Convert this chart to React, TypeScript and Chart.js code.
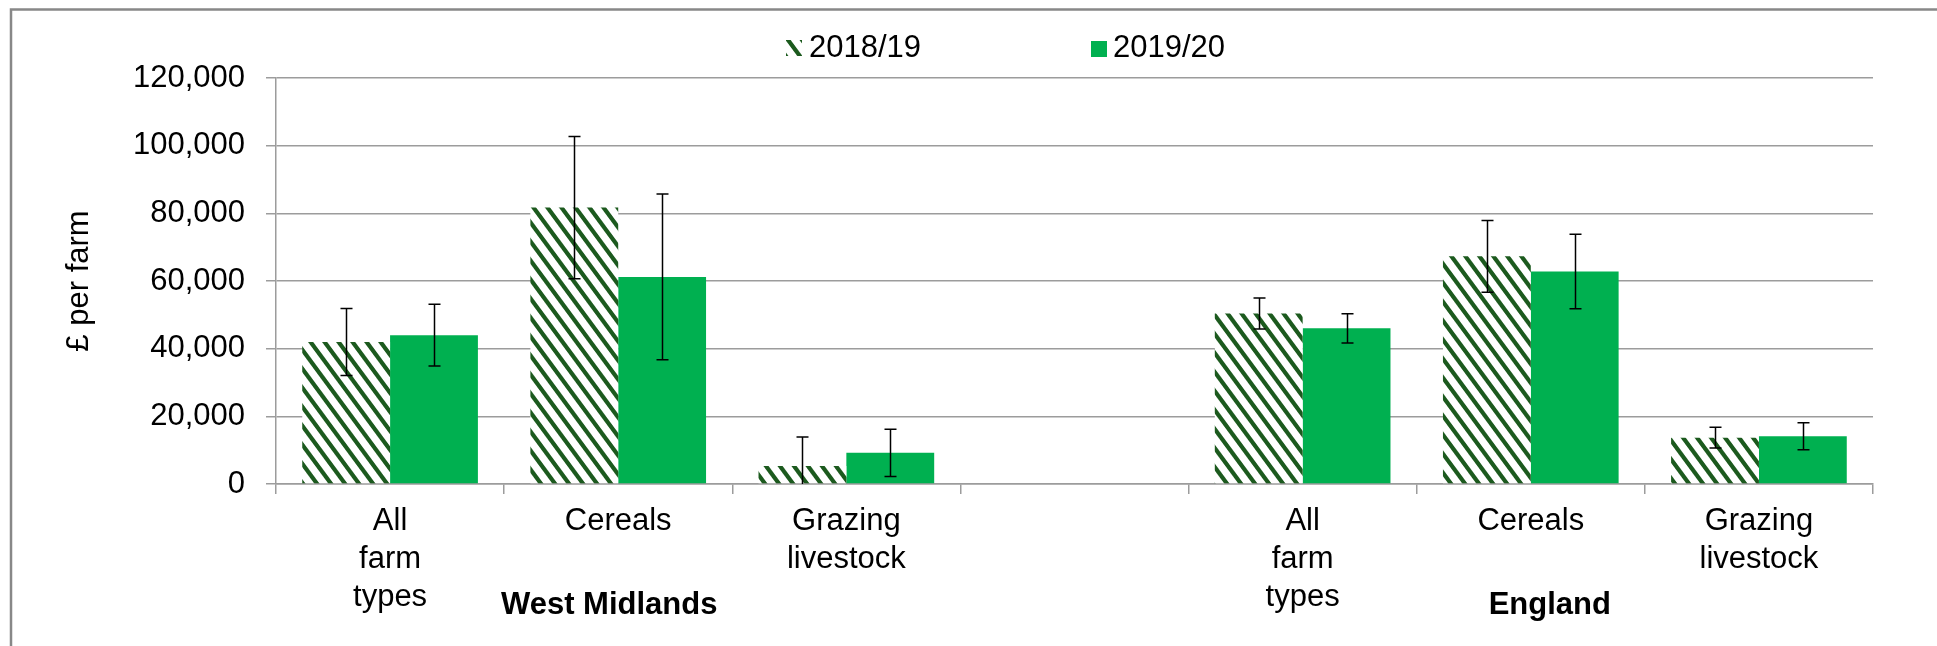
import React, { useEffect, useRef } from "react";
import { Chart, registerables } from "chart.js";

Chart.register(...registerables);

// ---- data ----
const categories: (string | string[])[] = [
  ["All", "farm", "types"],
  "Cereals",
  ["Grazing", "livestock"],
  "",
  ["All", "farm", "types"],
  "Cereals",
  ["Grazing", "livestock"],
];
const groupLabels = ["West Midlands", "England"];
const groupCenterIndex = [1, 5];
const seriesNames = ["2018/19", "2019/20"];
const values2018 = [42000, 81700, 5300, null, 50400, 67300, 13700];
const errors2018 = [9900, 21000, 8600, null, 4600, 10600, 3050];
const values2019 = [44000, 61200, 9200, null, 46000, 62800, 14100];
const errors2019 = [9100, 24500, 7000, null, 4350, 11000, 4000];
const yTicks = [0, 20000, 40000, 60000, 80000, 100000, 120000];

// ---- styles ----
const FONT = "'Liberation Sans', Arial, sans-serif";
const GREEN = "#00B050";
const DARK = [0x1c, 0x5a, 0x1e];
const GRID = "#9c9c9c";

function makeHatch(): CanvasPattern | string {
  const W = 14, H = 19, T = 5.2, S = 4;
  const c = document.createElement("canvas");
  c.width = W;
  c.height = H;
  const g = c.getContext("2d");
  if (!g) return "#1c5a1e";
  const img = g.createImageData(W, H);
  for (let y = 0; y < H; y++) {
    for (let x = 0; x < W; x++) {
      let cov = 0;
      for (let j = 0; j < S; j++) {
        for (let i = 0; i < S; i++) {
          const px = x + (i + 0.5) / S;
          const py = y + (j + 0.5) / S;
          const d = (((px - (py * W) / H) % W) + W) % W;
          if (d < T) cov++;
        }
      }
      const a = cov / (S * S);
      const k = (y * W + x) * 4;
      img.data[k] = Math.round(255 * (1 - a) + DARK[0] * a);
      img.data[k + 1] = Math.round(255 * (1 - a) + DARK[1] * a);
      img.data[k + 2] = Math.round(255 * (1 - a) + DARK[2] * a);
      img.data[k + 3] = 255;
    }
  }
  g.putImageData(img, 0, 0);
  const p = g.createPattern(c, "repeat");
  return p || "#1c5a1e";
}

export default function App() {
  const ref = useRef<HTMLCanvasElement | null>(null);

  useEffect(() => {
    const canvas = ref.current;
    if (!canvas) return;
    const hatch = makeHatch();
    const vals = [values2018, values2019];
    const errs = [errors2018, errors2019];

    const framePlugin = {
      id: "frame",
      beforeDraw(chart: any) {
        const ctx = chart.ctx;
        ctx.save();
        ctx.strokeStyle = "#888888";
        ctx.lineWidth = 2.5;
        ctx.strokeRect(11, 9.5, 3000, 3000);
        ctx.restore();
      },
    };

    const errorBarPlugin = {
      id: "errorBars",
      afterDatasetsDraw(chart: any) {
        const ctx = chart.ctx;
        const yScale = chart.scales.y;
        const area = chart.chartArea;
        ctx.save();
        ctx.strokeStyle = "#000";
        ctx.lineWidth = 1.5;
        chart.data.datasets.forEach((_ds: any, di: number) => {
          const meta = chart.getDatasetMeta(di);
          meta.data.forEach((bar: any, i: number) => {
            const v = vals[di][i];
            const e = errs[di][i];
            if (v == null || e == null) return;
            const x = Math.round(bar.x) + 0.5;
            const yTop = yScale.getPixelForValue(v + e);
            const yBot = yScale.getPixelForValue(v - e);
            const t = Math.max(yTop, area.top);
            const b = Math.min(yBot, area.bottom);
            ctx.beginPath();
            ctx.moveTo(x, t);
            ctx.lineTo(x, b);
            if (yTop >= area.top) {
              ctx.moveTo(x - 6, yTop);
              ctx.lineTo(x + 6, yTop);
            }
            if (yBot <= area.bottom) {
              ctx.moveTo(x - 6, yBot);
              ctx.lineTo(x + 6, yBot);
            }
            ctx.stroke();
          });
        });
        ctx.restore();
      },
    };

    const labelsPlugin = {
      id: "extraLabels",
      afterDraw(chart: any) {
        const ctx = chart.ctx;
        const xScale = chart.scales.x;
        ctx.save();
        // legend
        ctx.font = `31px ${FONT}`;
        ctx.textBaseline = "middle";
        ctx.textAlign = "left";
        ctx.fillStyle = hatch as any;
        ctx.fillRect(786, 40, 16, 16);
        ctx.fillStyle = "#000";
        ctx.fillText(seriesNames[0], 809, 48);
        ctx.fillStyle = GREEN;
        ctx.fillRect(1091, 41, 16, 16);
        ctx.fillStyle = "#000";
        ctx.fillText(seriesNames[1], 1113, 48);
        // group labels
        ctx.font = `bold 31px ${FONT}`;
        ctx.textAlign = "center";
        ctx.textBaseline = "alphabetic";
        const offs = [-9, 19];
        groupLabels.forEach((g, k) => {
          const x = xScale.getPixelForValue(groupCenterIndex[k]) + offs[k];
          ctx.fillText(g, x, 614);
        });
        ctx.restore();
      },
    };

    const chart = new Chart(canvas, {
      type: "bar",
      data: {
        labels: categories,
        datasets: [
          {
            label: seriesNames[0],
            data: values2018 as any,
            backgroundColor: hatch as any,
            borderWidth: 0,
            categoryPercentage: 0.77,
            barPercentage: 1,
          },
          {
            label: seriesNames[1],
            data: values2019 as any,
            backgroundColor: GREEN,
            borderWidth: 0,
            categoryPercentage: 0.77,
            barPercentage: 1,
          },
        ],
      },
      options: {
        responsive: false,
        devicePixelRatio: 1,
        animation: false,
        layout: { padding: { top: 78, right: 64, left: 0, bottom: 0 } },
        plugins: {
          legend: { display: false },
          tooltip: { enabled: false },
          title: { display: false },
        },
        scales: {
          x: {
            type: "category",
            offset: true,
            grid: {
              display: true,
              drawOnChartArea: false,
              drawTicks: true,
              tickLength: 10,
              color: GRID,
              lineWidth: 1.5,
              offset: true,
            },
            border: { display: true, color: GRID, width: 1.5 },
            ticks: {
              color: "#000",
              font: { family: FONT, size: 31, lineHeight: 1.23 },
              padding: 8,
              maxRotation: 0,
              minRotation: 0,
              autoSkip: false,
            },
            afterFit: (s: any) => {
              s.height = 162;
            },
          },
          y: {
            type: "linear",
            min: yTicks[0],
            max: yTicks[yTicks.length - 1],
            afterBuildTicks: (s: any) => {
              s.ticks = yTicks.map((v) => ({ value: v }));
            },
            grid: { color: GRID, lineWidth: 1.5, tickLength: 10, drawTicks: true },
            border: { display: true, color: GRID, width: 1.5 },
            ticks: {
              color: "#000",
              font: { family: FONT, size: 31 },
              padding: 21,
              callback: (v: any) => Number(v).toLocaleString("en-US"),
            },
            title: {
              display: true,
              text: "£ per farm",
              color: "#000",
              font: { family: FONT, size: 31 },
              padding: { top: 61, bottom: 0 },
            },
            afterFit: (s: any) => {
              s.width = 276;
            },
          },
        },
      },
      plugins: [framePlugin, errorBarPlugin, labelsPlugin],
    } as any);

    return () => {
      chart.destroy();
    };
  }, []);

  return (
    <div style={{ position: "absolute", left: 0, top: 0, width: 1937, height: 646, background: "#fff" }}>
      <canvas ref={ref} width={1937} height={646} style={{ display: "block" }} />
    </div>
  );
}
